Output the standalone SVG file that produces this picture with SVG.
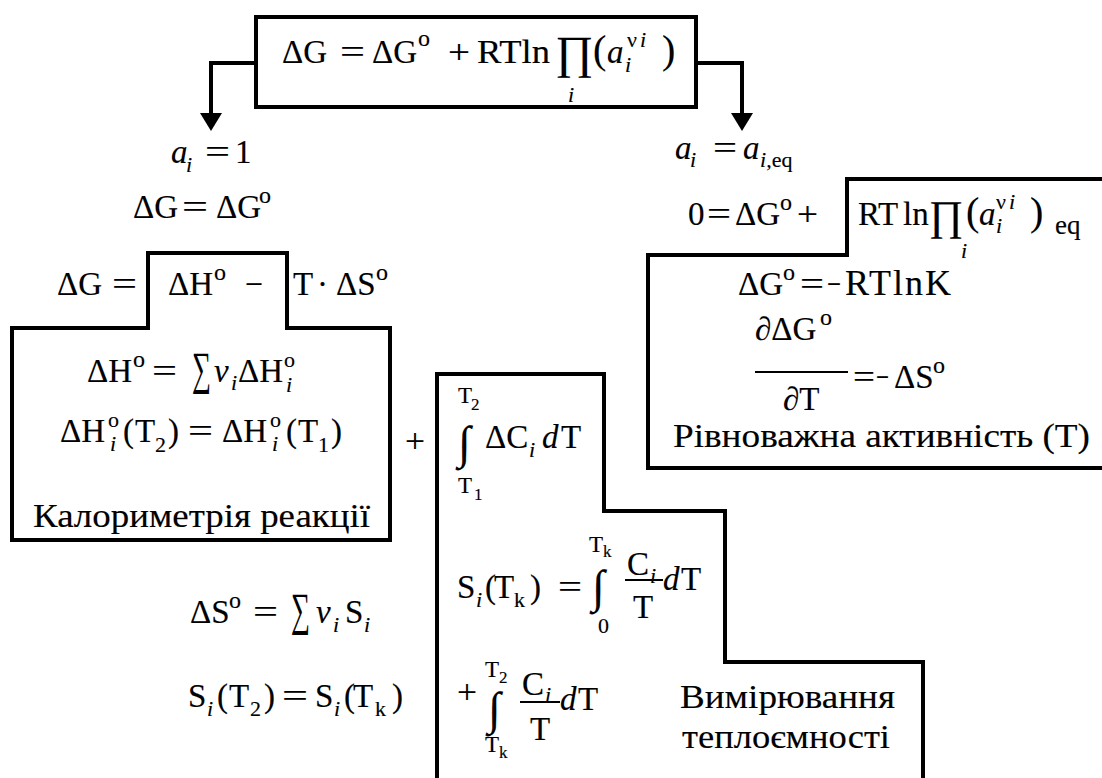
<svg xmlns="http://www.w3.org/2000/svg" width="1102" height="778" viewBox="0 0 1102 778">
<defs>
<style>
text{font-family:"Liberation Serif","Times New Roman","DejaVu Serif",serif;font-size:33px;fill:#000;stroke:#000;stroke-width:0.15px}
.it{font-style:italic}
.sb{font-size:22px}
.sp{font-size:24px}
.lim{font-size:23px}
.lims{font-size:17px}
.big{font-size:46px}
.bigr{font-size:42px}
.int{font-size:46px}
.sum{font-size:46px}
.par{font-size:40px}
.frame{fill:none;stroke:#000;stroke-width:4}
.bar{stroke:#000;stroke-width:2}
.conn{fill:none;stroke:#000;stroke-width:4}
</style>
<marker id="ah" markerUnits="userSpaceOnUse" markerWidth="18" markerHeight="22" refX="0" refY="11" orient="auto" viewBox="0 0 18 22">
<path d="M0,0 L18,11 L0,22 Z" fill="#000"/>
</marker>
</defs>
<rect width="1102" height="778" fill="#fff"/>

<g id="connectors">
<path class="conn" d="M256,63 H211 V113" marker-end="url(#ah)"/>
<path class="conn" d="M696,63 H742 V113" marker-end="url(#ah)"/>
</g>

<g id="node-top">
<rect class="frame" x="256" y="17" width="440" height="90"/>
<text x="282" y="63">ΔG</text>
<text x="340" y="63" textLength="25" lengthAdjust="spacingAndGlyphs">=</text>
<text x="372" y="63">ΔG</text>
<text class="sp" x="418" y="46">o</text>
<text x="448" y="63" textLength="22" lengthAdjust="spacingAndGlyphs">+</text>
<text x="477" y="63" textLength="73" lengthAdjust="spacingAndGlyphs">RTln</text>
<text class="big" x="555" y="68">∏</text>
<text class="sb it" x="568" y="102">i</text>
<text class="par" x="593" y="63">(</text>
<text class="it" x="607" y="63">a</text>
<text class="sb it" x="625" y="72">i</text>
<text class="sb" x="627" y="47">ν</text>
<text class="sb it" x="640" y="47">i</text>
<text class="par" x="662" y="63">)</text>
</g>

<g id="node-left-head">
<text class="it" x="171" y="163">a</text>
<text class="sb it" x="186" y="172">i</text>
<text x="205" y="163" textLength="25" lengthAdjust="spacingAndGlyphs">=</text>
<text x="235" y="163">1</text>
<text x="133" y="218">ΔG</text>
<text x="182" y="218" textLength="26" lengthAdjust="spacingAndGlyphs">=</text>
<text x="216" y="218">ΔG</text>
<text class="sp" x="259" y="203">o</text>
</g>

<g id="node-gibbs">
<text x="57" y="295">ΔG</text>
<text x="112" y="295" textLength="25" lengthAdjust="spacingAndGlyphs">=</text>
<text x="168" y="295">ΔH</text>
<text class="sp" x="214" y="280">o</text>
<text x="245" y="295" textLength="18" lengthAdjust="spacingAndGlyphs">−</text>
<text x="293" y="295">T</text>
<text x="317" y="295">·</text>
<text x="336" y="295">ΔS</text>
<text class="sp" x="376" y="280">o</text>
</g>

<g id="node-calorimetry">
<path class="frame" d="M12,540 V328 H148 V253 H287 V328 H390 V540 Z"/>
<text x="87" y="382">ΔH</text>
<text class="sp" x="133" y="367">o</text>
<text x="152" y="382" textLength="25" lengthAdjust="spacingAndGlyphs">=</text>
<text class="sum" x="192" y="384" textLength="19" lengthAdjust="spacingAndGlyphs">∑</text>
<text class="it" x="214" y="382">ν</text>
<text class="sb it" x="231" y="390">i</text>
<text x="238" y="382">ΔH</text>
<text class="sb" x="284" y="367">o</text>
<text class="sb it" x="286" y="392">i</text>

<text x="60" y="442">ΔH</text>
<text class="sb" x="108" y="427">o</text>
<text class="sb it" x="110" y="451">i</text>
<text x="123" y="442">(</text>
<text x="135" y="442">T</text>
<text class="sb" x="155" y="452">2</text>
<text x="168" y="442">)</text>
<text x="188" y="442" textLength="25" lengthAdjust="spacingAndGlyphs">=</text>
<text x="222" y="442">ΔH</text>
<text class="sb" x="270" y="427">o</text>
<text class="sb it" x="272" y="451">i</text>
<text x="286" y="442">(</text>
<text x="298" y="442">T</text>
<text class="sb" x="318" y="452">1</text>
<text x="331" y="442">)</text>
<text x="33" y="527" textLength="337" lengthAdjust="spacingAndGlyphs">Калориметрія реакції</text>
</g>

<g id="node-plus">
<text x="405" y="452" textLength="20" lengthAdjust="spacingAndGlyphs">+</text>
</g>

<g id="node-entropy">
<text x="190" y="623">ΔS</text>
<text class="sp" x="229" y="608">o</text>
<text x="253" y="623" textLength="25" lengthAdjust="spacingAndGlyphs">=</text>
<text class="sum" x="291" y="625" textLength="19" lengthAdjust="spacingAndGlyphs">∑</text>
<text class="it" x="316" y="623">ν</text>
<text class="sb it" x="333" y="632">i</text>
<text x="345" y="623">S</text>
<text class="sb it" x="364" y="632">i</text>

<text x="188" y="707">S</text>
<text class="sb it" x="207" y="716">i</text>
<text x="217" y="707">(</text>
<text x="229" y="707">T</text>
<text class="sb" x="250" y="716">2</text>
<text x="264" y="707">)</text>
<text x="282" y="707" textLength="26" lengthAdjust="spacingAndGlyphs">=</text>
<text x="315" y="707">S</text>
<text class="sb it" x="334" y="716">i</text>
<text x="344" y="707">(</text>
<text x="353" y="707">T</text>
<text class="sb" x="375" y="716">k</text>
<text x="392" y="707">)</text>
</g>

<g id="node-heatcapacity">
<path class="frame" d="M437,778 V374 H604 V511 H725 V662 H923 V778"/>
<text class="lim" x="458" y="403">T</text>
<text class="lims" x="471" y="410">2</text>
<text class="int" x="458" y="458">∫</text>
<text x="485" y="448">ΔC</text>
<text class="sb it" x="529" y="457">i</text>
<text class="it" x="542" y="448">d</text>
<text x="561" y="448">T</text>
<text class="lim" x="458" y="493">T</text>
<text class="lims" x="474" y="500">1</text>

<text x="457" y="598">S</text>
<text class="sb it" x="476" y="607">i</text>
<text x="485" y="598">(</text>
<text x="494" y="598">T</text>
<text class="sb" x="514" y="607">k</text>
<text x="530" y="598">)</text>
<text x="558" y="598" textLength="24" lengthAdjust="spacingAndGlyphs">=</text>
<text class="lim" x="589" y="552">T</text>
<text class="lims" x="603" y="557">k</text>
<text class="int" x="592" y="602">∫</text>
<text class="sb" x="598" y="633">0</text>
<text x="627" y="575">C</text>
<text class="sb it" x="650" y="583">i</text>
<line class="bar" x1="625" y1="580" x2="663" y2="580"/>
<text x="633" y="618">T</text>
<text class="it" x="663" y="590">d</text>
<text x="681" y="590">T</text>

<text x="457" y="703" textLength="20" lengthAdjust="spacingAndGlyphs">+</text>
<text class="lim" x="485" y="677">T</text>
<text class="lims" x="499" y="683">2</text>
<text class="int" x="488" y="724">∫</text>
<text class="lim" x="485" y="752">T</text>
<text class="lims" x="499" y="758">k</text>
<text x="522" y="695">C</text>
<text class="sb it" x="545" y="702">i</text>
<line class="bar" x1="520" y1="702" x2="560" y2="702"/>
<text x="530" y="740">T</text>
<text class="it" x="560" y="710">d</text>
<text x="578" y="710">T</text>

<text x="680" y="708" textLength="215" lengthAdjust="spacingAndGlyphs">Вимірювання</text>
<text x="682" y="748" textLength="208" lengthAdjust="spacingAndGlyphs">теплоємності</text>
</g>

<g id="node-right-head">
<text class="it" x="675" y="159">a</text>
<text class="sb it" x="690" y="167">i</text>
<text x="713" y="159" textLength="24" lengthAdjust="spacingAndGlyphs">=</text>
<text class="it" x="743" y="159">a</text>
<text class="sb" x="760" y="167"><tspan class="it">i</tspan>,eq</text>
</g>

<g id="node-equilibrium">
<path class="frame" d="M1102,468 H648 V255 H847 V179 H1102"/>
<text x="688" y="225">0</text>
<text x="707" y="225" textLength="24" lengthAdjust="spacingAndGlyphs">=</text>
<text x="735" y="225">ΔG</text>
<text class="sp" x="780" y="210">o</text>
<text x="797" y="225" textLength="21" lengthAdjust="spacingAndGlyphs">+</text>
<text x="858" y="225">RT</text>
<text x="903" y="225">ln</text>
<text class="bigr" x="929" y="230">∏</text>
<text class="sb it" x="961" y="258">i</text>
<text class="par" x="966" y="225">(</text>
<text class="it" x="979" y="225">a</text>
<text class="sb it" x="996" y="233">i</text>
<text class="sb" x="996" y="209">ν</text>
<text class="sb it" x="1009" y="209">i</text>
<text class="par" x="1030" y="225">)</text>
<text x="1055" y="234" style="font-size:27px">eq</text>

<text x="738" y="295">ΔG</text>
<text class="sp" x="783" y="280">o</text>
<text x="800" y="295" textLength="24" lengthAdjust="spacingAndGlyphs">=</text>
<text x="827" y="295" textLength="14" lengthAdjust="spacingAndGlyphs">−</text>
<text x="845" y="295" style="font-size:36px" textLength="106" lengthAdjust="spacing">RTlnK</text>

<text x="755" y="340">∂ΔG</text>
<text class="sp" x="820" y="325">o</text>
<line class="bar" x1="755" y1="372" x2="848" y2="372"/>
<text x="783" y="410">∂T</text>
<text x="853" y="388" textLength="22" lengthAdjust="spacingAndGlyphs">=</text>
<text x="876" y="388" textLength="13" lengthAdjust="spacingAndGlyphs">−</text>
<text x="894" y="388">ΔS</text>
<text class="sp" x="933" y="373">o</text>
<text x="673" y="447" textLength="417" lengthAdjust="spacingAndGlyphs">Рівноважна активність (T)</text>
</g>
</svg>
